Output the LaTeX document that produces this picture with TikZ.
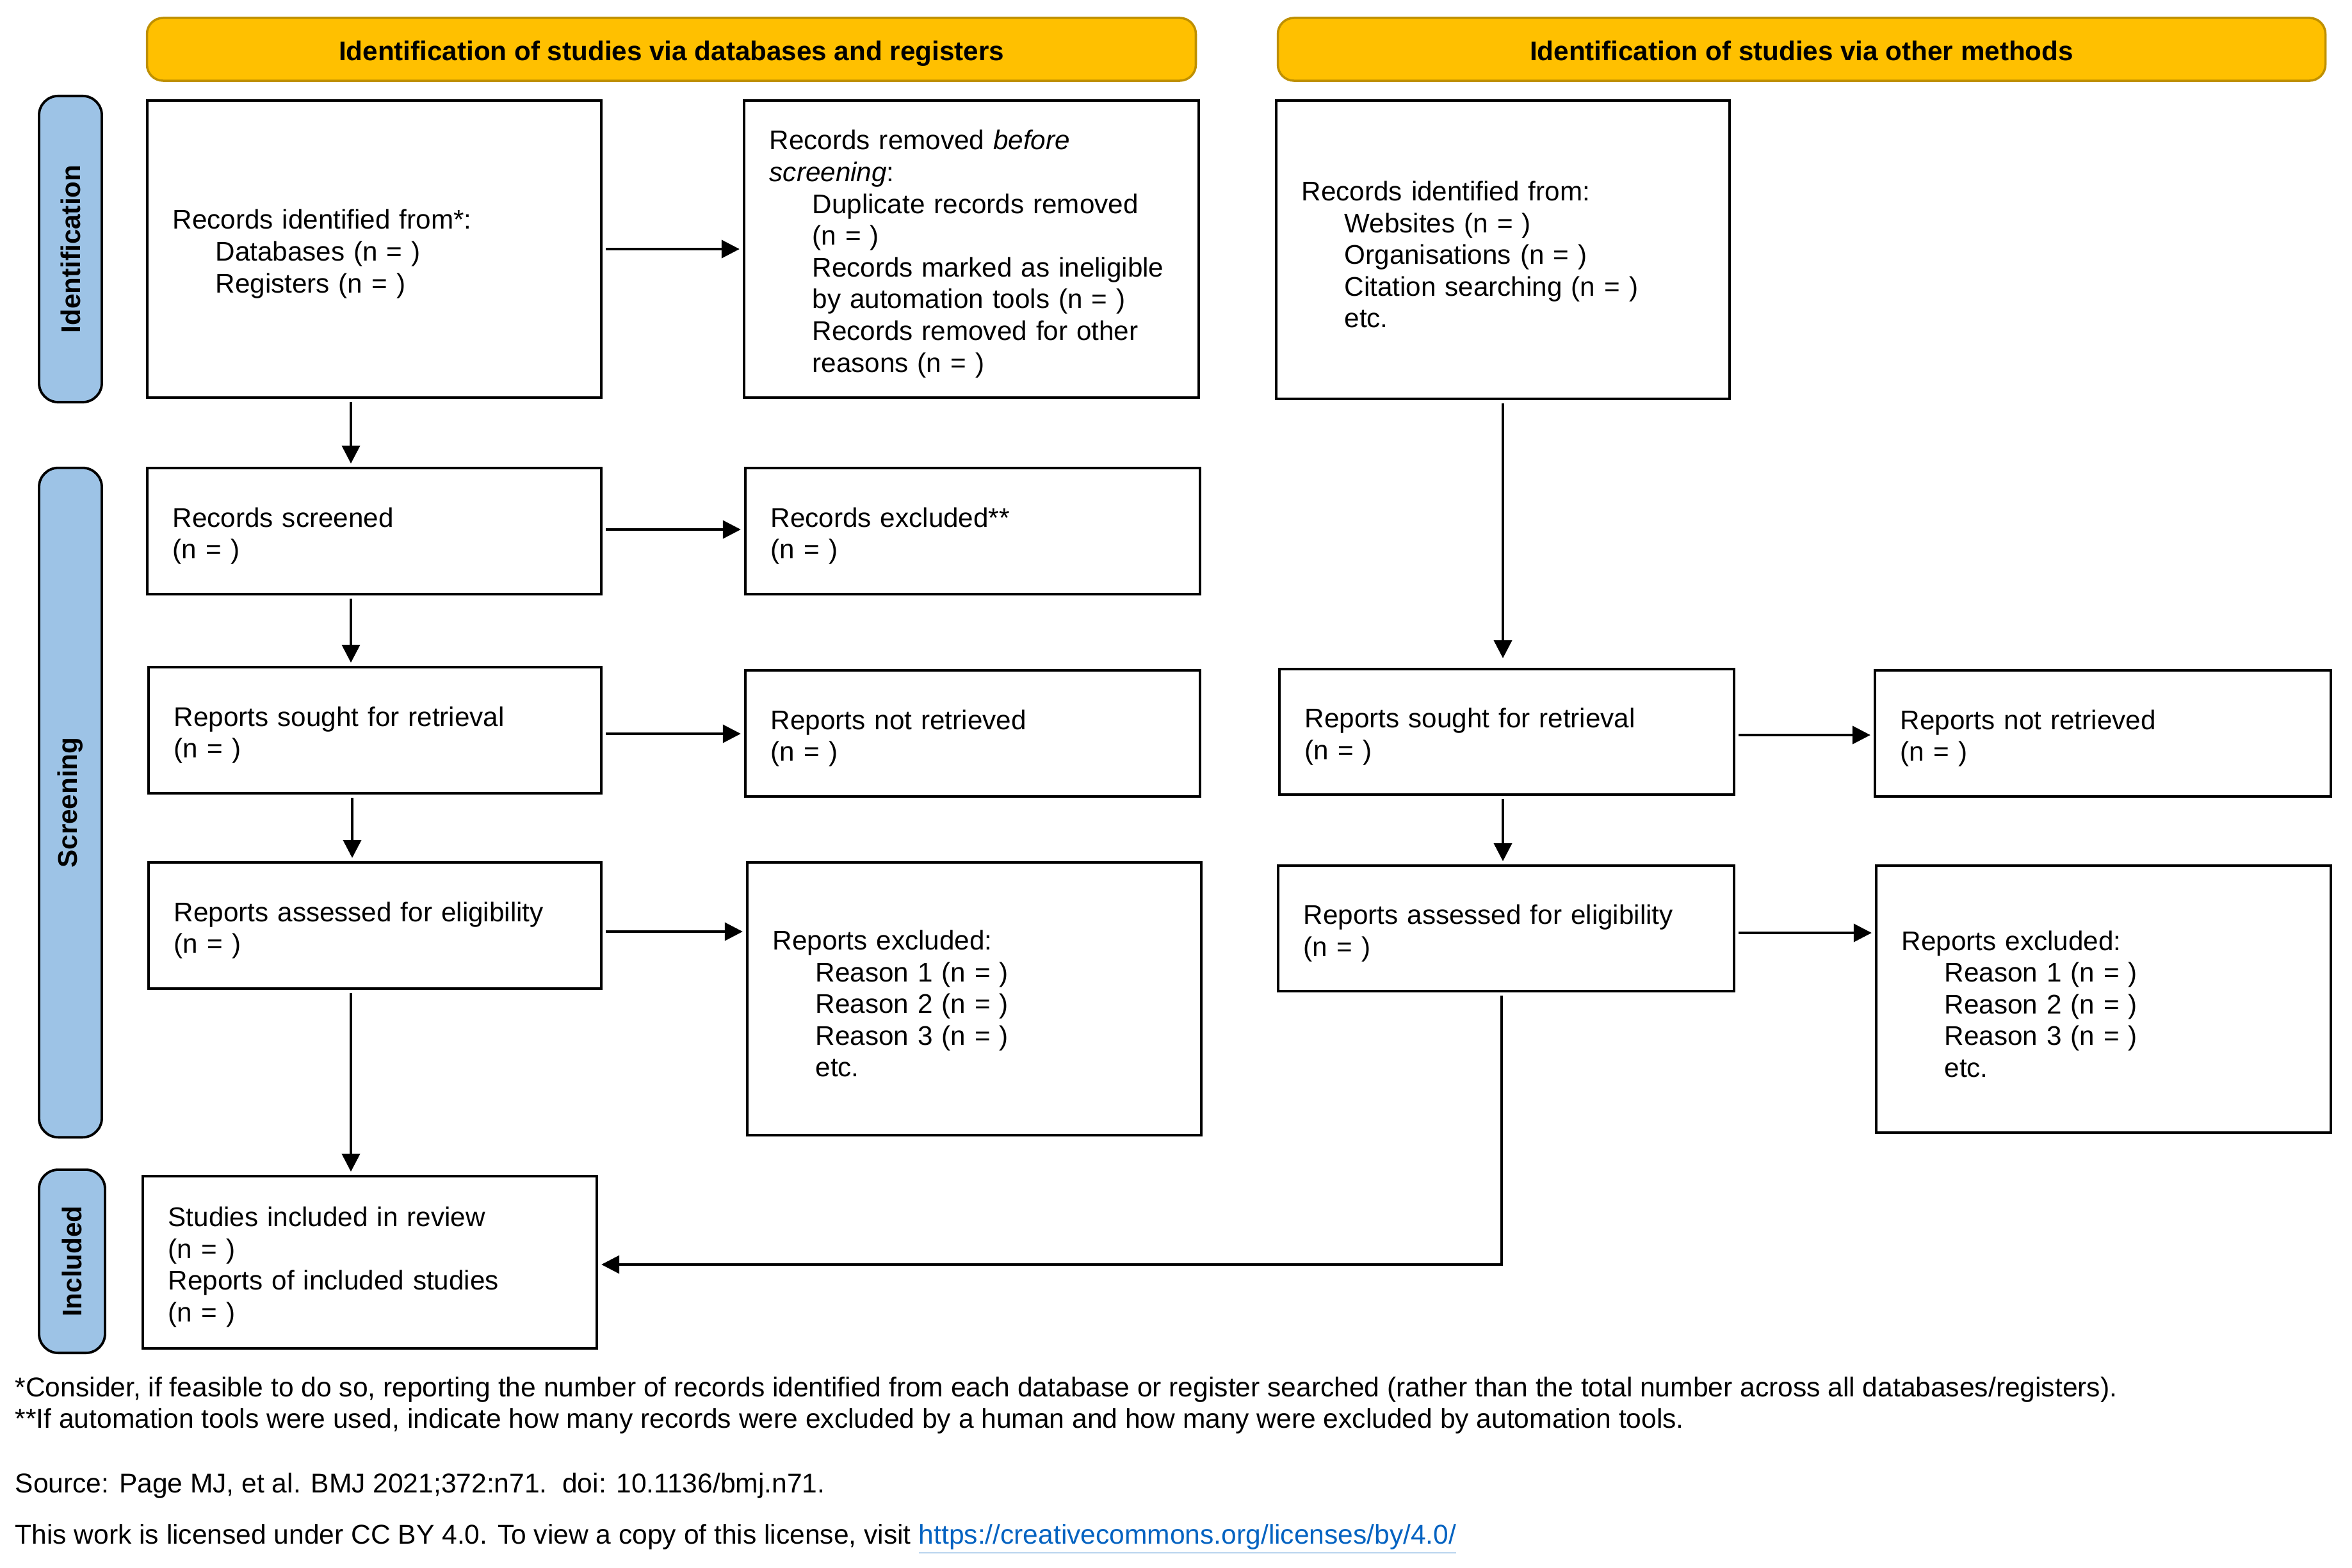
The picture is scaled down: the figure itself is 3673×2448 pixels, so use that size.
\documentclass[tikz,border=0pt]{standalone}
\usepackage{fontspec}
\setmainfont{Liberation Sans}
\usetikzlibrary{arrows.meta,calc}
\definecolor{hdrfill}{HTML}{FFC000}
\definecolor{hdrdraw}{HTML}{BF9000}
\definecolor{sidefill}{HTML}{9DC3E6}
\definecolor{linkblue}{HTML}{0563C1}
\newcommand{\ind}{\hspace*{19pt}}
\begin{document}
\begin{tikzpicture}[x=0.01cm, y=-0.01cm,
  box/.style={draw=black, line width=1.1pt, fill=white, inner xsep=0.4cm, inner ysep=0pt, align=left, font=\fontsize{12}{14.1}\selectfont, execute at begin node={\rule{0pt}{13pt}}},
  hdr/.style={draw=hdrdraw, line width=1pt, fill=hdrfill, rounded corners=0.25cm, font=\fontsize{12}{14}\selectfont\bfseries, inner sep=0pt, text height=12pt, text depth=2pt},
  side/.style={draw=black, line width=1.1pt, fill=sidefill, rounded corners=0.3cm, font=\fontsize{12}{14}\selectfont\bfseries, inner sep=0pt, rotate=90},
  arr/.style={line width=1.1pt, -{Triangle[length=0.28cm,width=0.28cm]}, shorten >=0.05cm, shorten <=0.05cm},
  note/.style={anchor=west, inner sep=0pt, font=\fontsize{12.1}{14}\selectfont}
]
\useasboundingbox (0,0) rectangle (3673,2448);

% headers
\node[hdr, minimum width=16.37cm, minimum height=0.98cm] (h1) at (1048.5,77) {Identification of studies via databases and registers};
\node[hdr, minimum width=16.35cm, minimum height=0.98cm] (h2) at (2813.5,77) {Identification of studies via other methods};

% side bars
\node[side, minimum width=4.78cm, minimum height=0.98cm] (s1) at (110,389) {Identification};
\node[side, minimum width=10.45cm, minimum height=0.98cm] (s2) at (110,1253.5) {Screening};
\node[side, minimum width=2.86cm, minimum height=1.03cm] (s3) at (112.5,1970) {Included};

% left column
\node[box, text width=6.29cm, minimum height=4.64cm] (b1) at (584.5,389)
  {Records identified from*:\\\ind Databases (n = )\\\ind Registers (n = )};
\node[box, text width=6.30cm, minimum height=4.64cm] (b2) at (1517,389)
  {Records removed \textit{before}\\\textit{screening}:\\\ind Duplicate records removed\\\ind (n = )\\\ind Records marked as ineligible\\\ind by automation tools (n = )\\\ind Records removed for other\\\ind reasons (n = )};
\node[box, text width=6.29cm, minimum height=1.97cm] (b3) at (584.5,829.5)
  {Records screened\\(n = )};
\node[box, text width=6.30cm, minimum height=1.97cm] (b4) at (1519,829.5)
  {Records excluded**\\(n = )};
\node[box, text width=6.27cm, minimum height=1.97cm] (b5) at (585.5,1140.5)
  {Reports sought for retrieval\\(n = )};
\node[box, text width=6.30cm, minimum height=1.97cm] (b6) at (1519,1145.5)
  {Reports not retrieved\\(n = )};
\node[box, text width=6.27cm, minimum height=1.97cm] (b7) at (585.5,1445.5)
  {Reports assessed for eligibility\\(n = )};
\node[box, text width=6.29cm, minimum height=4.26cm] (b8) at (1521.5,1560)
  {Reports excluded:\\\ind Reason 1 (n = )\\\ind Reason 2 (n = )\\\ind Reason 3 (n = )\\\ind etc.};
\node[box, text width=6.29cm, minimum height=2.69cm] (b9) at (577.5,1971.5)
  {Studies included in review\\(n = )\\Reports of included studies\\(n = )};

% right column
\node[box, text width=6.28cm, minimum height=4.66cm] (r1) at (2347,390)
  {Records identified from:\\\ind Websites (n = )\\\ind Organisations (n = )\\\ind Citation searching (n = )\\\ind etc.};
\node[box, text width=6.30cm, minimum height=1.96cm] (r2) at (2353,1143)
  {Reports sought for retrieval\\(n = )};
\node[box, text width=6.32cm, minimum height=1.97cm] (r3) at (3284,1145.5)
  {Reports not retrieved\\(n = )};
\node[box, text width=6.32cm, minimum height=1.96cm] (r4) at (2352,1450)
  {Reports assessed for eligibility\\(n = )};
\node[box, text width=6.30cm, minimum height=4.17cm] (r5) at (3285,1560.5)
  {Reports excluded:\\\ind Reason 1 (n = )\\\ind Reason 2 (n = )\\\ind Reason 3 (n = )\\\ind etc.};

% arrows left
\draw[arr] (b1.east |- 0,389) -- (b2.west |- 0,389);
\draw[arr] (b1.south -| 548,0) -- (b3.north -| 548,0);
\draw[arr] (b3.east |- 0,827) -- (b4.west |- 0,827);
\draw[arr] (b3.south -| 548,0) -- (b5.north -| 548,0);
\draw[arr] (b5.east |- 0,1146) -- (b6.west |- 0,1146);
\draw[arr] (b5.south -| 550,0) -- (b7.north -| 550,0);
\draw[arr] (b7.east |- 0,1455) -- (b8.west |- 0,1455);
\draw[arr] (b7.south -| 548,0) -- (b9.north -| 548,0);

% arrows right
\draw[arr] (r1.south -| 2347,0) -- ($(r2.north -| 2347,0)+(0,-10)$);
\draw[arr] (r2.east |- 0,1148) -- (r3.west |- 0,1148);
\draw[arr] (r2.south -| 2347,0) -- (r4.north -| 2347,0);
\draw[arr] (r4.east |- 0,1457) -- (r5.west |- 0,1457);
\draw[arr] (r4.south -| 2345,0) |- (b9.east |- 0,1975);

% notes
\node[note] (fn1) at (23,2170) {*Consider, if feasible to do so, reporting the number of records identified from each database or register searched (rather than the total number across all databases/registers).};
\node[note] (fn2) at (23,2219) {**If automation tools were used, indicate how many records were excluded by a human and how many were excluded by automation tools.};
\node[note] (src) at (23,2320) {Source: Page MJ, et al. BMJ 2021;372:n71.\ \ doi: 10.1136/bmj.n71.};
\node[note] (lic) at (23,2404) {This work is licensed under CC BY 4.0. To view a copy of this license, visit {\color{linkblue}\underline{https://creativecommons.org/licenses/by/4.0/}}};
\end{tikzpicture}
\end{document}
